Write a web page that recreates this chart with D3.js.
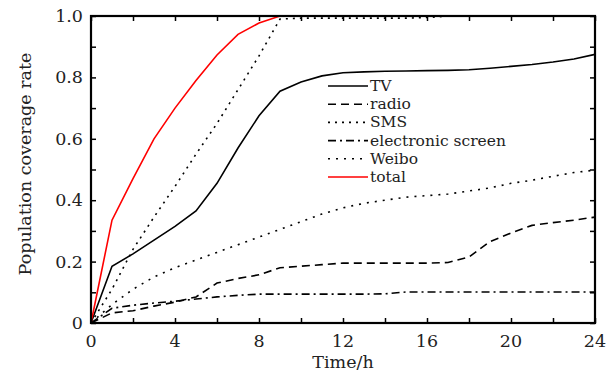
<!DOCTYPE html>
<html>
<head>
<meta charset="utf-8">
<script src="https://cdn.jsdelivr.net/npm/d3@7"></script>
<style>
  body { margin: 0; background: #fff; }
  text { font-family: "DejaVu Serif", "Liberation Serif", serif; fill: #222; }
</style>
</head>
<body>
<div id="fig"></div>
<script>
var hours = d3.range(0, 25);
var tv     = [0, 0.185, 0.225, 0.27, 0.315, 0.365, 0.455, 0.57, 0.675, 0.755, 0.785, 0.805, 0.815, 0.818, 0.82, 0.821, 0.822, 0.823, 0.825, 0.83, 0.836, 0.842, 0.85, 0.86, 0.875];
var radio  = [0, 0.033, 0.04, 0.055, 0.068, 0.085, 0.13, 0.145, 0.157, 0.18, 0.185, 0.19, 0.195, 0.195, 0.195, 0.195, 0.195, 0.197, 0.215, 0.265, 0.293, 0.318, 0.327, 0.335, 0.345];
var sms    = [0, 0.11, 0.24, 0.345, 0.445, 0.55, 0.65, 0.76, 0.87, 0.99, 0.993, 0.993, 0.993, 0.993, 0.993, 0.993, 0.995, 1, 1, 1, 1, 1, 1, 1, 1];
var screen = [0, 0.048, 0.058, 0.065, 0.071, 0.078, 0.085, 0.09, 0.094, 0.094, 0.094, 0.094, 0.094, 0.094, 0.095, 0.101, 0.101, 0.101, 0.101, 0.101, 0.101, 0.101, 0.101, 0.101, 0.101];
var weibo  = [0, 0.06, 0.11, 0.15, 0.18, 0.205, 0.23, 0.255, 0.28, 0.305, 0.33, 0.355, 0.375, 0.39, 0.4, 0.41, 0.415, 0.42, 0.43, 0.44, 0.455, 0.465, 0.478, 0.49, 0.498];
var total  = [0, 0.335, 0.47, 0.6, 0.70, 0.79, 0.873, 0.94, 0.977, 1, 1, 1, 1, 1, 1, 1, 1, 1, 1, 1, 1, 1, 1, 1, 1];

var xTicks = [0, 4, 8, 12, 16, 20, 24];
var yTicks = [0, 0.2, 0.4, 0.6, 0.8, 1.0];

var series = [
  {name: "TV", values: tv, color: "#000", dash: null},
  {name: "radio", values: radio, color: "#000", dash: "8,5"},
  {name: "SMS", values: sms, color: "#000", dash: "2,5"},
  {name: "electronic screen", values: screen, color: "#000", dash: "8,4,2,4"},
  {name: "Weibo", values: weibo, color: "#000", dash: "2,6"},
  {name: "total", values: total, color: "#f00", dash: null}
];

var W = 614, H = 376;
var x0 = 91, x1 = 595, y0 = 323, y1 = 16;
var fs = 17.5;

var svg = d3.select("#fig").append("svg")
  .attr("width", W).attr("height", H);

var x = d3.scaleLinear().domain([0, 24]).range([x0, x1]);
var y = d3.scaleLinear().domain([0, 1]).range([y0, y1]);

// lines
var line = d3.line()
  .x(function(d, i) { return x(hours[i]); })
  .y(function(d) { return y(d); });

svg.append("g").selectAll("path")
  .data(series)
  .enter().append("path")
    .attr("d", function(s) { return line(s.values); })
    .attr("fill", "none")
    .attr("stroke", function(s) { return s.color; })
    .attr("stroke-width", 1.6)
    .attr("stroke-dasharray", function(s) { return s.dash; });

// axes, ticks inside on all sides
var tk = 5;
svg.append("g").attr("transform", "translate(0," + y0 + ")")
  .call(d3.axisBottom(x).tickValues(d3.range(0, 25, 2)).tickSize(-tk).tickFormat(""));
svg.append("g").attr("transform", "translate(0," + y1 + ")")
  .call(d3.axisTop(x).tickValues(d3.range(0, 25, 2)).tickSize(-tk).tickFormat(""));
svg.append("g").attr("transform", "translate(" + x0 + ",0)")
  .call(d3.axisLeft(y).ticks(10).tickSize(-tk).tickFormat(""));
svg.append("g").attr("transform", "translate(" + x1 + ",0)")
  .call(d3.axisRight(y).ticks(10).tickSize(-tk).tickFormat(""));

svg.selectAll(".domain").remove();
svg.selectAll(".tick line").attr("stroke", "#000").attr("stroke-width", 1.5);

svg.append("rect")
  .attr("x", x0).attr("y", y1)
  .attr("width", x1 - x0).attr("height", y0 - y1)
  .attr("fill", "none").attr("stroke", "#000").attr("stroke-width", 2.2);

// tick labels
svg.append("g").selectAll("text")
  .data(xTicks)
  .enter().append("text")
    .attr("x", function(d) { return x(d); })
    .attr("y", 347)
    .attr("text-anchor", "middle")
    .attr("font-size", fs)
    .text(function(d) { return d; });

svg.append("g").selectAll("text")
  .data(yTicks)
  .enter().append("text")
    .attr("x", x0 - 8)
    .attr("y", function(d) { return y(d) + 6; })
    .attr("text-anchor", "end")
    .attr("font-size", fs)
    .text(function(d) { return d === 0 ? "0" : d.toFixed(1); });

// axis titles
svg.append("text")
  .attr("x", 343).attr("y", 368)
  .attr("text-anchor", "middle").attr("font-size", fs)
  .text("Time/h");

svg.append("text")
  .attr("transform", "translate(31,164) rotate(-90)")
  .attr("text-anchor", "middle").attr("font-size", fs)
  .text("Population coverage rate");

// legend
var lg = svg.append("g").attr("transform", "translate(328,86)");
var row = lg.selectAll("g")
  .data(series)
  .enter().append("g")
    .attr("transform", function(d, i) { return "translate(0," + (i * 18.2) + ")"; });
row.append("line")
  .attr("x1", 0).attr("x2", 40).attr("y1", 0).attr("y2", 0)
  .attr("stroke", function(s) { return s.color; })
  .attr("stroke-width", 1.6)
  .attr("stroke-dasharray", function(s) { return s.dash; });
row.append("text")
  .attr("x", 42).attr("y", 5)
  .attr("font-size", 15.5)
  .text(function(s) { return s.name; });
</script>
</body>
</html>
